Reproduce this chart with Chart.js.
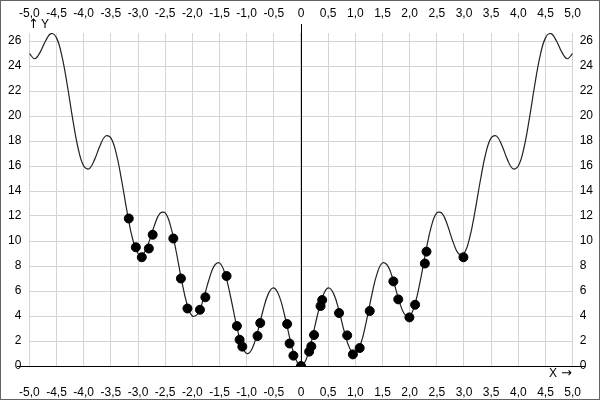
<!DOCTYPE html>
<html>
<head>
<meta charset="utf-8">
<script src="https://cdn.jsdelivr.net/npm/chart.js@4"></script>
<style>
  html, body { margin: 0; padding: 0; background: #fff; }
  canvas { display: block; }
</style>
</head>
<body>
<canvas id="chart" width="600" height="400"></canvas>
<script>
// curva (paso 0,1)
const curveX = [
  -5.0, -4.9, -4.8, -4.7, -4.6, -4.5, -4.4, -4.3, -4.2, -4.1,
  -4.0, -3.9, -3.8, -3.7, -3.6, -3.5, -3.4, -3.3, -3.2, -3.1,
  -3.0, -2.9, -2.8, -2.7, -2.6, -2.5, -2.4, -2.3, -2.2, -2.1,
  -2.0, -1.9, -1.8, -1.7, -1.6, -1.5, -1.4, -1.3, -1.2, -1.1,
  -1.0, -0.9, -0.8, -0.7, -0.6, -0.5, -0.4, -0.3, -0.2, -0.1,
  0.0, 0.1, 0.2, 0.3, 0.4, 0.5, 0.6, 0.7, 0.8, 0.9,
  1.0, 1.1, 1.2, 1.3, 1.4, 1.5, 1.6, 1.7, 1.8, 1.9,
  2.0, 2.1, 2.2, 2.3, 2.4, 2.5, 2.6, 2.7, 2.8, 2.9,
  3.0, 3.1, 3.2, 3.3, 3.4, 3.5, 3.6, 3.7, 3.8, 3.9,
  4.0, 4.1, 4.2, 4.3, 4.4, 4.5, 4.6, 4.7, 4.8, 4.9, 5.0
];
const curveY = [
  25.0, 24.58, 25.11, 26.02, 26.59, 26.25, 24.79, 22.42, 19.71, 17.38,
  16.0, 15.78, 16.51, 17.62, 18.39, 18.25, 16.99, 14.82, 12.31, 10.18,
  9.0, 8.98, 9.91, 11.22, 12.19, 12.25, 11.19, 9.22, 6.91, 4.98,
  4.0, 4.18, 5.31, 6.82, 7.99, 8.25, 7.39, 5.62, 3.51, 1.78,
  1.0, 1.38, 2.71, 4.42, 5.79, 6.25, 5.59, 4.02, 2.11, 0.58,
  0.0, 0.58, 2.11, 4.02, 5.59, 6.25, 5.79, 4.42, 2.71, 1.38,
  1.0, 1.78, 3.51, 5.62, 7.39, 8.25, 7.99, 6.82, 5.31, 4.18,
  4.0, 4.98, 6.91, 9.22, 11.19, 12.25, 12.19, 11.22, 9.91, 8.98,
  9.0, 10.18, 12.31, 14.82, 16.99, 18.25, 18.39, 17.62, 16.51, 15.78,
  16.0, 17.38, 19.71, 22.42, 24.79, 26.25, 26.59, 26.02, 25.11, 24.58, 25.0
];

// puntos medidos
const pointsX = [
  -3.17, -3.04, -2.93, -2.80, -2.73, -2.35, -2.21, -2.09, -1.86, -1.76,
  -1.37, -1.18, -1.13, -1.08, -0.80, -0.75, -0.255, -0.21, -0.14, 0.0,
  0.15, 0.19, 0.24, 0.36, 0.39, 0.70, 0.85, 0.955, 1.08, 1.265,
  1.70, 1.79, 1.995, 2.10, 2.28, 2.31, 2.99
];
const pointsY = [
  11.8, 9.5, 8.7, 9.4, 10.5, 10.2, 7.0, 4.6, 4.5, 5.5,
  7.2, 3.2, 2.1, 1.55, 2.4, 3.44, 3.36, 1.8, 0.83, 0.0,
  1.15, 1.57, 2.48, 4.8, 5.28, 4.24, 2.45, 0.93, 1.44, 4.4,
  6.77, 5.33, 3.89, 4.9, 8.2, 9.15, 8.7
];

const xMin = -5, xMax = 5, xStep = 0.5;
const yMin = 0, yMax = 26.64, yStep = 2;

const labelFont = { family: 'Liberation Sans', size: 12 };
const gridColor = '#d4d4d4';

function fmtX(v) {
  if (Math.abs(v) < 1e-9) return '0';
  return v.toFixed(1).replace('.', ',');
}

// ejes en cero y textos de los ejes
const zeroAxes = {
  id: 'zeroAxes',
  beforeDatasetsDraw(chart) {
    const ctx = chart.ctx;
    const x0 = Math.round(chart.scales.x.getPixelForValue(0)) + 0.5;
    const y0 = Math.round(chart.scales.y.getPixelForValue(0)) + 0.5;
    ctx.save();
    ctx.strokeStyle = '#000';
    ctx.lineWidth = 1;
    ctx.beginPath();
    ctx.moveTo(17, y0);
    ctx.lineTo(585, y0);
    ctx.moveTo(x0, 24);
    ctx.lineTo(x0, y0);
    ctx.stroke();
    ctx.restore();
  },
  afterDraw(chart) {
    const ctx = chart.ctx;
    ctx.save();
    ctx.fillStyle = '#000';
    ctx.textBaseline = 'middle';
    ctx.textAlign = 'left';
    ctx.font = '13px "DejaVu Sans"';
    ctx.fillText('\u2191', 28, 25);
    ctx.fillText('\u2192', 561, 374);
    ctx.font = '12px "Liberation Sans"';
    ctx.fillText('Y', 41, 25);
    ctx.fillText('X', 549, 374);
    ctx.strokeStyle = '#646464';
    ctx.lineWidth = 1;
    ctx.strokeRect(0.5, 0.5, 599, 399);
    ctx.restore();
  }
};

const ctx = document.getElementById('chart').getContext('2d');
const myChart = new Chart(ctx, {
  type: 'scatter',
  data: {
    datasets: [
      {
        data: curveX.map((x, i) => ({ x: x, y: curveY[i] })),
        showLine: true,
        borderColor: '#222',
        borderWidth: 1.2,
        pointRadius: 0,
        tension: 0.4,
        fill: false,
        order: 2
      },
      {
        data: pointsX.map((x, i) => ({ x: x, y: pointsY[i] })),
        showLine: false,
        backgroundColor: '#000',
        borderColor: '#000',
        pointRadius: 4.5,
        order: 1
      }
    ]
  },
  options: {
    responsive: false,
    animation: false,
    devicePixelRatio: 1,
    layout: { padding: 0 },
    plugins: {
      legend: { display: false },
      tooltip: { enabled: false }
    },
    scales: {
      x: {
        type: 'linear',
        position: 'bottom',
        min: xMin, max: xMax,
        afterFit: s => { s.height = 34; },
        grid: {
          color: gridColor,
          drawTicks: false
        },
        border: { display: false },
        ticks: {
          stepSize: xStep,
          color: '#000',
          font: labelFont,
          padding: 19,
          maxRotation: 0,
          autoSkip: false,
          callback: v => fmtX(v)
        }
      },
      x2: {
        type: 'linear',
        position: 'top',
        min: xMin, max: xMax,
        afterFit: s => { s.height = 33; },
        grid: { display: false, drawTicks: false },
        border: { display: false },
        ticks: {
          stepSize: xStep,
          color: '#000',
          font: labelFont,
          padding: 12,
          maxRotation: 0,
          autoSkip: false,
          callback: v => fmtX(v)
        }
      },
      y: {
        type: 'linear',
        position: 'left',
        min: yMin, max: yMax,
        afterFit: s => { s.width = 26; },
        grid: {
          color: ctx => ctx.tick && ctx.tick.value === 0 ? 'rgba(0,0,0,0)' : gridColor,
          drawTicks: false
        },
        border: { display: false },
        ticks: {
          stepSize: yStep,
          includeBounds: false,
          color: '#000',
          font: labelFont,
          padding: 8
        }
      },
      y2: {
        type: 'linear',
        position: 'right',
        min: yMin, max: yMax,
        afterFit: s => { s.width = 26; },
        grid: { display: false, drawTicks: false },
        border: { display: false },
        ticks: {
          stepSize: yStep,
          includeBounds: false,
          color: '#000',
          font: labelFont,
          padding: 7
        }
      }
    }
  },
  plugins: [zeroAxes]
});
</script>
</body>
</html>
